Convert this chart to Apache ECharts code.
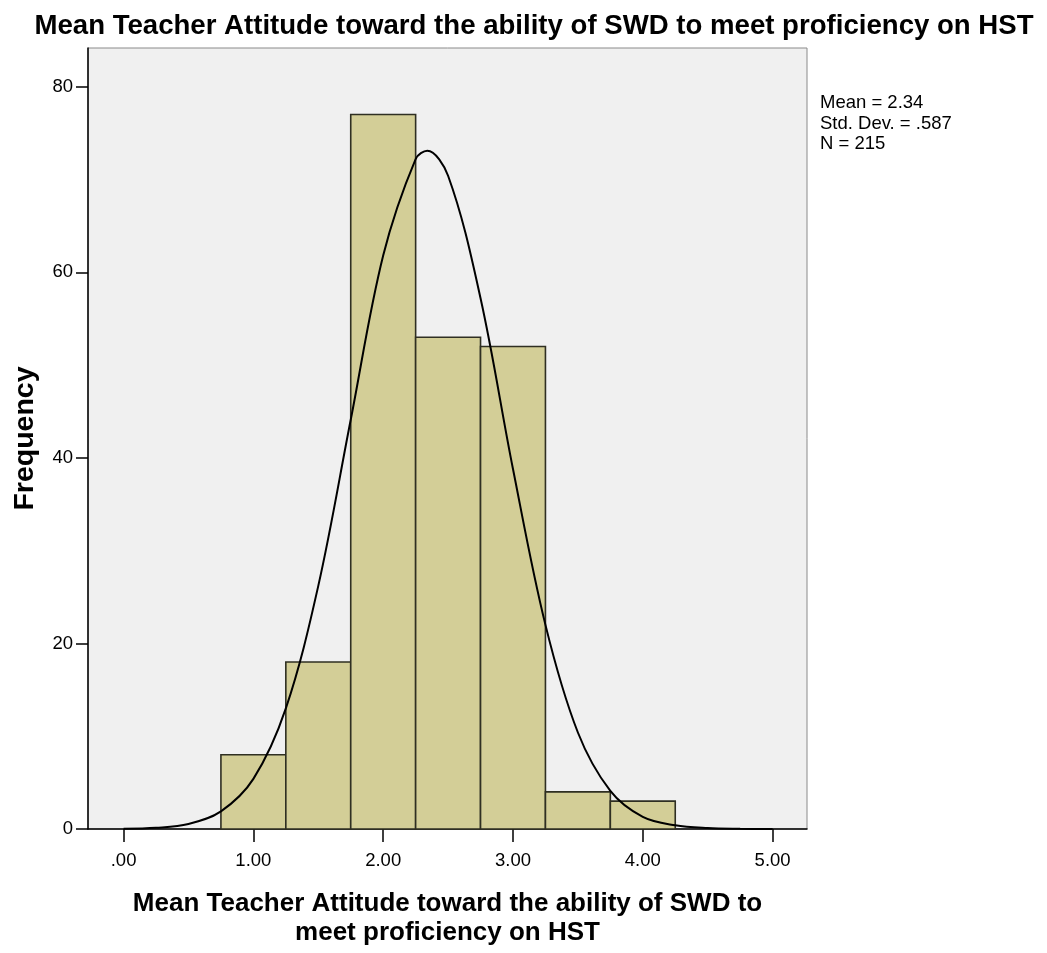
<!DOCTYPE html>
<html><head><meta charset="utf-8">
<script src="https://cdn.jsdelivr.net/npm/echarts@6/dist/echarts.min.js"></script>
<style>html,body{margin:0;padding:0;background:#fff}#c{width:1047px;height:953px}</style>
</head><body><div id="c"></div>
<script>
// ---- data ----
const binStarts = [0.75, 1.25, 1.75, 2.25, 2.75, 3.25, 3.75];
const binEnds   = [1.25, 1.75, 2.25, 2.75, 3.25, 3.75, 4.25];
const counts    = [8, 18, 77, 53, 52, 4, 3];
const curveX = [0, 0.25, 0.5, 0.75, 1.0, 1.25, 1.5, 1.75, 2.0, 2.25, 2.34, 2.5, 2.75, 3.0, 3.25, 3.5, 3.75, 4.0, 4.25, 4.5, 4.75, 5.0];
const curveY = [0.03, 0.13, 0.54, 1.9, 5.4, 13.0, 26.2, 44.1, 61.8, 72.2, 73.1, 70.4, 57.2, 38.8, 22.0, 10.4, 4.1, 1.3, 0.4, 0.1, 0.02, 0];
const xTicks = [0, 1, 2, 3, 4, 5];
const yTicks = [0, 20, 40, 60, 80];
const statLines = ['Mean = 2.34', 'Std. Dev. = .587', 'N = 215'];
const titleText = 'Mean Teacher Attitude toward the ability of SWD to meet proficiency on HST';
const xName = 'Mean Teacher Attitude toward the ability of SWD to\nmeet proficiency on HST';
const yName = 'Frequency';

const FONT = '"Liberation Sans", Arial, sans-serif';
const chart = echarts.init(document.getElementById('c'), null, {renderer: 'canvas'});
const barData = binStarts.map((s, i) => [s, binEnds[i], counts[i]]);
const fmtX = v => v === 0 ? '.00' : v.toFixed(2);

chart.setOption({
  animation: false,
  backgroundColor: '#ffffff',
  title: {
    text: titleText, left: 529, top: 7, textAlign: 'center',
    textStyle: {fontFamily: FONT, fontWeight: 'bold', fontSize: 27.6, color: '#000'}
  },
  grid: {left: 88, right: 240, top: 48, bottom: 124, containLabel: false, outerBoundsMode: 'none',
         show: true, backgroundColor: '#f0f0f0', borderColor: '#8a8a8a', borderWidth: 1},
  xAxis: {
    type: 'value', min: -0.274, max: 5.265,
    name: xName, nameLocation: 'middle', nameGap: 60, nameMoveOverlap: false,
    nameTextStyle: {fontFamily: FONT, fontWeight: 'bold', fontSize: 26, color: '#000', lineHeight: 29},
    axisLine: {show: true, onZero: false, lineStyle: {color: '#000', width: 1.5}},
    axisTick: {show: true, customValues: xTicks, length: 13, lineStyle: {color: '#000', width: 1.5}},
    axisLabel: {customValues: xTicks, formatter: fmtX, margin: 22, fontFamily: FONT, fontSize: 18.5, color: '#000'},
    splitLine: {show: false}
  },
  yAxis: {
    type: 'value', min: 0, max: 84.17,
    name: yName, nameLocation: 'middle', nameGap: 49, nameRotate: 90, nameMoveOverlap: false,
    nameTextStyle: {fontFamily: FONT, fontWeight: 'bold', fontSize: 28.5, lineHeight: 27, color: '#000'},
    axisLine: {show: true, onZero: false, lineStyle: {color: '#000', width: 1.5}},
    axisTick: {show: true, customValues: yTicks, length: 12, lineStyle: {color: '#000', width: 1.5}},
    axisLabel: {customValues: yTicks, margin: 15, fontFamily: FONT, fontSize: 18.5, color: '#000'},
    splitLine: {show: false}
  },
  graphic: [{
    type: 'text', left: 820, top: 93,
    style: {text: statLines.join('\n'), fontFamily: FONT, fontSize: 18.5, lineHeight: 20.5, fill: '#000'}
  }],
  series: [{
    type: 'custom',
    data: barData,
    encode: {x: [0, 1], y: 2},
    renderItem: function (params, api) {
      const p0 = api.coord([api.value(0), api.value(2)]);
      const p1 = api.coord([api.value(1), 0]);
      return {
        type: 'rect',
        shape: {x: p0[0], y: p0[1], width: p1[0] - p0[0], height: p1[1] - p0[1]},
        style: {fill: '#d3ce97', stroke: '#2f2f22', lineWidth: 1.6}
      };
    },
    z: 2
  }, {
    type: 'line',
    data: curveX.map((x, i) => [x, curveY[i]]),
    smooth: 0.35,
    showSymbol: false,
    lineStyle: {color: '#000', width: 2},
    z: 3
  }]
});
</script></body></html>
